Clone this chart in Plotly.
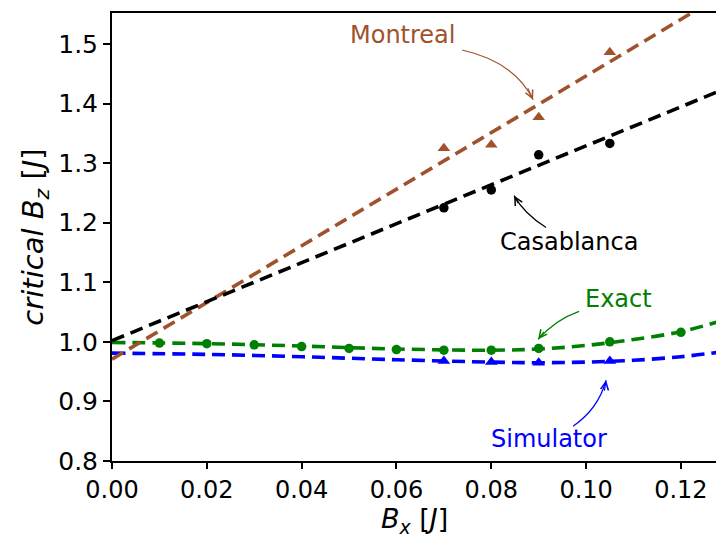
import plotly.graph_objects as go

# ---------------- data ----------------
exact_x = [0.01, 0.02, 0.03, 0.04, 0.05, 0.06, 0.07, 0.08, 0.09, 0.105, 0.12]
exact_y = [0.998, 0.997, 0.995, 0.992, 0.989, 0.987, 0.986, 0.986, 0.989, 1.000, 1.016]

sim_x = [0.07, 0.08, 0.09, 0.105]
sim_y = [0.968, 0.966, 0.965, 0.968]

casa_x = [0.07, 0.08, 0.09, 0.105]
casa_y = [1.225, 1.255, 1.314, 1.333]

mont_x = [0.07, 0.08, 0.09, 0.105]
mont_y = [1.325, 1.331, 1.377, 1.486]

fit_x = [0.0, 0.02, 0.04, 0.06, 0.08, 0.09, 0.10, 0.11, 0.12, 0.1275]
exact_fit = [0.999, 0.997, 0.993, 0.988, 0.986, 0.988, 0.994, 1.004, 1.017, 1.033]
sim_fit = [0.981, 0.979, 0.975, 0.970, 0.966, 0.965, 0.966, 0.969, 0.975, 0.982]

line_x = [0.0, 0.1275]
casa_fit = [1.002, 1.419]
mont_fit = [0.971, 1.577]

x_ticks = [0.0, 0.02, 0.04, 0.06, 0.08, 0.10, 0.12]
y_ticks = [0.8, 0.9, 1.0, 1.1, 1.2, 1.3, 1.4, 1.5]

SIENNA = "#a0522d"
GREEN = "#008000"
BLUE = "#0000ff"
FONT = "DejaVu Sans"

fig = go.Figure()

def dashed(x, y, color, shape="linear"):
    fig.add_trace(go.Scatter(x=x, y=y, mode="lines", line=dict(color=color, width=3.6, dash="13px,7px", shape=shape),
                             showlegend=False, hoverinfo="skip"))

dashed(fit_x, sim_fit, BLUE, "spline")
dashed(fit_x, exact_fit, GREEN, "spline")
dashed(line_x, mont_fit, SIENNA)
dashed(line_x, casa_fit, "black")

fig.add_trace(go.Scatter(x=sim_x, y=sim_y, mode="markers", marker=dict(symbol="triangle-up", size=11, color=BLUE), showlegend=False))
fig.add_trace(go.Scatter(x=exact_x, y=exact_y, mode="markers", marker=dict(symbol="circle", size=9.5, color=GREEN), showlegend=False))
fig.add_trace(go.Scatter(x=casa_x, y=casa_y, mode="markers", marker=dict(symbol="circle", size=9.5, color="black"), showlegend=False))
fig.add_trace(go.Scatter(x=mont_x, y=mont_y, mode="markers", marker=dict(symbol="triangle-up", size=11, color=SIENNA), showlegend=False))

# pixel -> data helpers for annotation placement
def X(px):
    return (px - 112) / 4740.0

def Y(py):
    return 1.5 - (py - 44) / 597.0

labels = [
    # text, text pos, start, control, tip, arrow offset(ax, ay), color
    ("Montreal", (403, 35), (462, 50), (515, 62), (533, 100), (-6, -13), SIENNA),
    ("Casablanca", (569, 242), (546, 228), (524, 214), (514, 196), (5, 9), "black"),
    ("Exact", (618, 300), (579, 312), (556, 320), (538, 340), (7, -9), GREEN),
    ("Simulator", (549, 440), (573, 427), (598, 410), (606, 381), (-2, 12), BLUE),
]

shapes = []
annotations = []
for text, tp, s, c, t, off, col in labels:
    annotations.append(dict(x=X(tp[0]), y=Y(tp[1]), text=text, showarrow=False,
                            font=dict(family=FONT, size=24, color=col), xanchor="center", yanchor="middle"))
    shapes.append(dict(type="path", xref="x", yref="y",
                       path=f"M {X(s[0])},{Y(s[1])} Q {X(c[0])},{Y(c[1])} {X(t[0])},{Y(t[1])}",
                       line=dict(color=col, width=1.2)))
    annotations.append(dict(x=X(t[0]), y=Y(t[1]), text="", showarrow=True, ax=off[0], ay=off[1],
                            arrowhead=5, arrowsize=1.3, arrowwidth=1.2, arrowcolor=col, standoff=0))

# x-axis title placed as paper annotation (below tick labels)
annotations.append(dict(xref="paper", yref="paper", x=0.5, y=-0.132, xanchor="center", yanchor="middle",
                        text="<i>B</i><sub><i>x</i></sub> [<i>J</i>]", showarrow=False,
                        font=dict(family=FONT, size=27, color="black")))

fig.update_layout(
    width=716, height=537,
    margin=dict(l=112, r=0, t=13, b=76),
    plot_bgcolor="white", paper_bgcolor="white",
    font=dict(family=FONT, size=25, color="black"),
    shapes=shapes, annotations=annotations,
    showlegend=False,
)
fig.update_xaxes(range=[0, 0.1274], tickvals=x_ticks, tickformat=".2f", showgrid=False, zeroline=False,
                 showline=True, linecolor="black", linewidth=2, mirror=True,
                 ticks="outside", ticklen=6, tickwidth=2, tickcolor="black",
                 tickfont=dict(family=FONT, size=24))
fig.update_yaxes(range=[0.8, 1.552], tickvals=y_ticks, tickformat=".1f", showgrid=False, zeroline=False,
                 showline=True, linecolor="black", linewidth=2, mirror=False,
                 ticks="outside", ticklen=7, tickwidth=2, tickcolor="black",
                 tickfont=dict(family=FONT, size=25),
                 title=dict(text="<i>critical B</i><sub><i>z</i></sub> [<i>J</i>]", font=dict(family=FONT, size=29), standoff=6))

fig.write_html("out.html")
